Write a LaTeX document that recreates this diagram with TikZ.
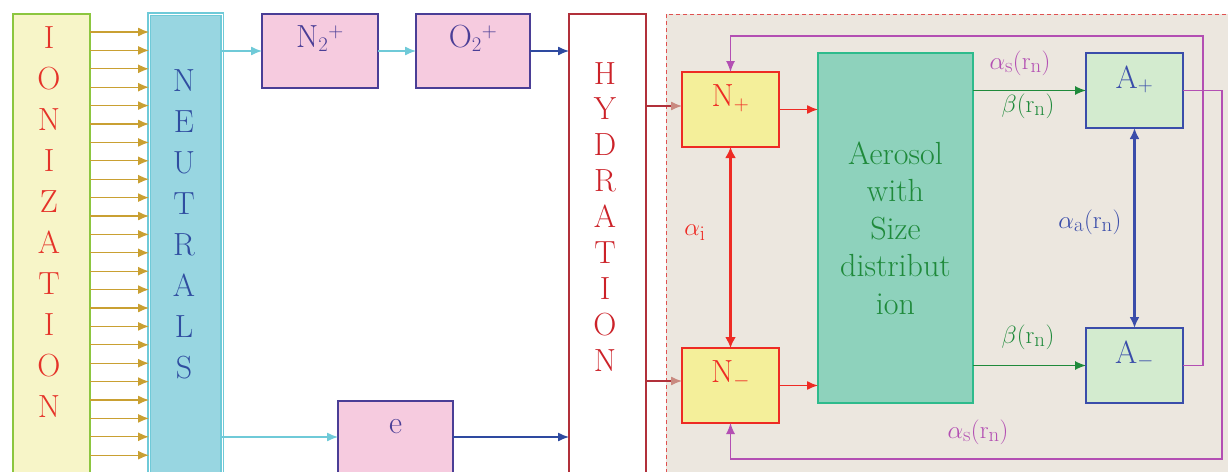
\documentclass[tikz,border=0pt]{standalone}
\usetikzlibrary{arrows.meta}

\definecolor{ionfill}{HTML}{F7F5C8}
\definecolor{iondraw}{HTML}{8CC63F}
\definecolor{ionred}{HTML}{E53329}
\definecolor{gold}{HTML}{C9A032}
\definecolor{neufill}{HTML}{98D6E1}
\definecolor{neudraw}{HTML}{6FCAD8}
\definecolor{neublue}{HTML}{2F4DA0}
\definecolor{pinkfill}{HTML}{F6CBDF}
\definecolor{pinkdraw}{HTML}{4A3E96}
\definecolor{darkblue}{HTML}{2E4AA0}
\definecolor{hydred}{HTML}{B1303A}
\definecolor{hydtext}{HTML}{CC2229}
\definecolor{regfill}{HTML}{ECE7DF}
\definecolor{regdraw}{HTML}{E05050}
\definecolor{nfill}{HTML}{F4EF9A}
\definecolor{nred}{HTML}{EE2B24}
\definecolor{hydhead}{HTML}{C98A80}
\definecolor{aerfill}{HTML}{8ED2BC}
\definecolor{aerdraw}{HTML}{2EBB8C}
\definecolor{aergreen}{HTML}{1F8A3B}
\definecolor{afill}{HTML}{D3EBCF}
\definecolor{ablue}{HTML}{3A4DAA}
\definecolor{loopmag}{HTML}{B34FB3}

\tikzset{
  bigfont/.style={font=\fontsize{32}{38}\selectfont},
  letter/.style={bigfont, inner sep=0pt, text height=22pt, text depth=0pt},
  colbox/.style={rectangle, inner sep=0pt, outer sep=0pt},
  pinkbox/.style={colbox, fill=pinkfill, draw=pinkdraw, line width=1.6pt,
    text=pinkdraw, bigfont, text height=22pt, text depth=30pt},
  nbox/.style={colbox, fill=nfill, draw=nred, line width=2.4pt, text=nred,
    bigfont, minimum width=97pt, minimum height=75pt, text height=22pt, text depth=28pt},
  abox/.style={colbox, fill=afill, draw=ablue, line width=2.4pt, text=ablue,
    bigfont, minimum width=97pt, minimum height=75pt, text height=22pt, text depth=27pt},
  lbl/.style={font=\fontsize{28}{32}\selectfont, inner sep=1pt},
  tip/.style={-{Latex[length=11pt,width=9pt]}}
}

\begin{document}
\begin{tikzpicture}[x=1pt, y=-1pt]
    \useasboundingbox (0,0) rectangle (1228,471);
    \clip (0,0) rectangle (1228,471);

    % shaded region round the aerosol part
    \draw[fill=regfill, draw=regdraw, line width=0.8pt, dash pattern=on 4pt off 3pt]
        (666,14) rectangle (1240,490);

    % 1. the three tall columns
    \node[colbox, fill=ionfill, draw=iondraw, line width=1.5pt,
          minimum width=77pt, minimum height=480pt] (ion) at (51.5,254) {};
    \node[colbox, fill=neufill, draw=neudraw, line width=1.2pt, double=white,
          double distance=1pt, minimum width=73pt, minimum height=480pt] (neu) at (185.5,254) {};
    \node[colbox, fill=white, draw=hydred, line width=1.5pt,
          minimum width=77pt, minimum height=480pt] (hyd) at (607.5,254) {};

    \foreach \l [count=\i] in {I,O,N,I,Z,A,T,I,O,N}
        \node[letter, text=ionred] (ion-\i) at (49,{37+41.1*(\i-1)}) {\l};
    \foreach \l [count=\i] in {N,E,U,T,R,A,L,S}
        \node[letter, text=neublue] (neu-\i) at (184,{80+41*(\i-1)}) {\l};
    \foreach \l [count=\i] in {H,Y,D,R,A,T,I,O,N}
        \node[letter, text=hydtext] (hyd-\i) at (605,{73+35.9*(\i-1)}) {\l};

    % 2. the ion boxes
    \node[pinkbox, minimum width=116pt, minimum height=74pt] (n2) at (320,51) {N$_2{}^+$};
    \node[pinkbox, minimum width=114pt, minimum height=74pt] (o2) at (473,51) {O$_2{}^+$};
    \node[pinkbox, minimum width=115pt, minimum height=100pt, text depth=58pt] (elec) at (395.5,451) {e};

    \node[nbox] (npos) at (730.5,109.5) {N$_+$};
    \node[nbox] (nneg) at (730.5,385.5) {N$_-$};

    \node[colbox, fill=aerfill, draw=aerdraw, line width=1.2pt, text=aergreen,
          minimum width=155pt, minimum height=350pt, align=center,
          font=\fontsize{32}{37.5}\selectfont] (aer) at (895.5,228)
          {Aerosol\\with\\Size\\distribut\\ion};

    \node[abox] (apos) at (1134.5,90.5) {A$_+$};
    \node[abox] (aneg) at (1134.5,365.5) {A$_-$};

    % 3. arrows from the ionization column
    \foreach \i in {0,...,23}
        \draw[tip, gold, line width=1.3pt] (ion.east |- 0,{32+18.4*\i}) -- (neu.west |- 0,{32+18.4*\i});

    \draw[tip, neudraw, line width=1.3pt] (neu.east |- n2.west) -- (n2.west);
    \draw[tip, neudraw, line width=1.3pt] (n2.east) -- (o2.west);
    \draw[tip, darkblue, line width=1.3pt] (o2.east) -- (o2.east -| hyd.west);
    \draw[tip, neudraw, line width=1.3pt] (neu.east |- 0,437) -- (elec.west |- 0,437);
    \draw[tip, darkblue, line width=1.3pt] (elec.east |- 0,437) -- (hyd.west |- 0,437);

    % 4. hydration into the ions
    \draw[-{Latex[length=11pt,width=9pt,color=hydhead]}, hydred, line width=1.3pt]
        (hyd.east |- 0,106) -- (npos.west |- 0,106);
    \draw[-{Latex[length=11pt,width=9pt,color=hydhead]}, hydred, line width=1.3pt]
        (hyd.east |- 0,381) -- (nneg.west |- 0,381);
    \draw[{Latex[length=11pt,width=11pt]}-{Latex[length=11pt,width=11pt]}, nred, line width=2.4pt]
        (npos.south) -- (nneg.north);
    \node[lbl, text=nred] (ai) at (695,233) {$\alpha_{\mathrm{i}}$};

    \draw[tip, nred, line width=1.3pt] (npos.east) -- (npos.east -| aer.west);
    \draw[tip, nred, line width=1.3pt] (nneg.east) -- (nneg.east -| aer.west);

    % 5. aerosol to the charged aerosols
    \draw[tip, aergreen, line width=1.2pt] (aer.east |- apos.west) -- (apos.west);
    \draw[tip, aergreen, line width=1.2pt] (aer.east |- aneg.west) -- (aneg.west);
    \node[lbl, text=aergreen] (bp) at (1028,106) {$\beta(\mathrm{r}_{\mathrm{n}})$};
    \node[lbl, text=aergreen] (bn) at (1028,337) {$\beta(\mathrm{r}_{\mathrm{n}})$};
    \draw[{Latex[length=11pt,width=10pt]}-{Latex[length=11pt,width=10pt]}, ablue, line width=2.2pt]
        (apos.south) -- (aneg.north);
    \node[lbl, text=ablue] (aa) at (1090,222) {$\alpha_{\mathrm{a}}(\mathrm{r}_{\mathrm{n}})$};

    % 6. recombination loops
    \coordinate (loopa) at (1203,36);
    \coordinate (loopb) at (1222,459);
    \draw[tip, loopmag, line width=1.2pt] (aneg.east) -| (loopa) -| (npos.north);
    \draw[tip, loopmag, line width=1.2pt] (apos.east) -| (loopb) -| (nneg.south);
    \node[lbl, text=loopmag] (asp) at (1020,63) {$\alpha_{\mathrm{s}}(\mathrm{r}_{\mathrm{n}})$};
    \node[lbl, text=loopmag] (asn) at (978,432) {$\alpha_{\mathrm{s}}(\mathrm{r}_{\mathrm{n}})$};
\end{tikzpicture}
\end{document}
